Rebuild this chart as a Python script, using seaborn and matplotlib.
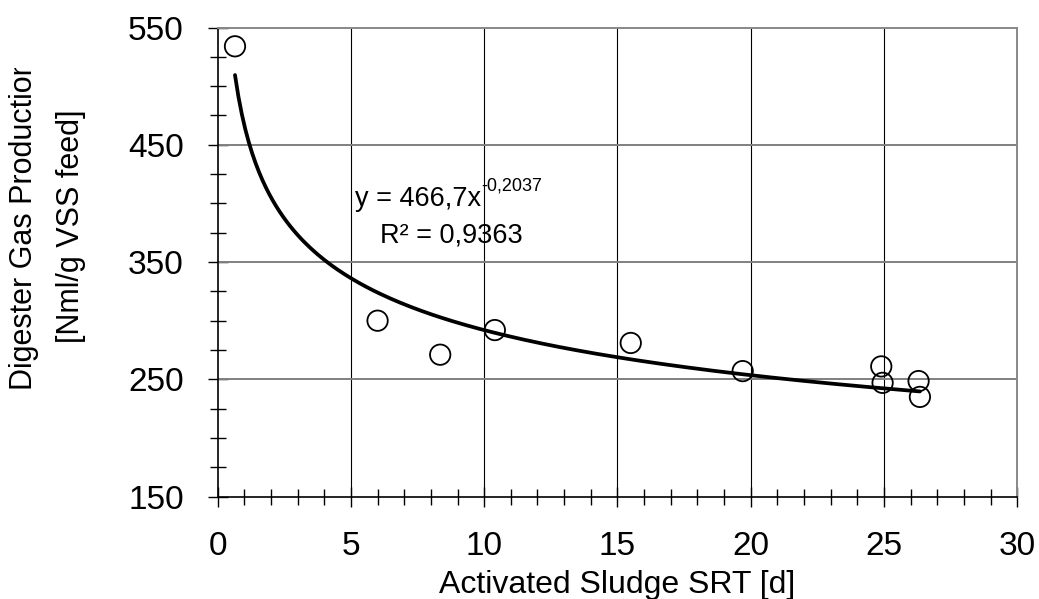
import numpy as np
import pandas as pd
import matplotlib
matplotlib.use("Agg")
import matplotlib.pyplot as plt
import seaborn as sns
from matplotlib.ticker import MultipleLocator
from matplotlib.transforms import Bbox

# measured points
srt = [0.65, 6.0, 8.35, 10.4, 15.5, 19.7, 24.9, 24.95, 26.3, 26.35]
gas = [534, 300, 271, 292, 281, 257, 261, 247, 248.5, 235]

# power trend shown on the chart: y = a * x^b
fit_a = 466.7
fit_b = -0.2037

x_ticks = [0, 5, 10, 15, 20, 25, 30]
y_ticks = [150, 250, 350, 450, 550]

df = pd.DataFrame({"srt": srt, "gas": gas})
xs = np.linspace(min(srt), max(srt), 200)
trend = pd.DataFrame({"srt": xs, "gas": fit_a * xs ** fit_b})

sns.set_theme(style="white")
plt.rcParams["font.family"] = ["Liberation Sans", "DejaVu Sans"]
plt.rcParams["text.color"] = "black"
plt.rcParams["axes.labelcolor"] = "black"
plt.rcParams["xtick.color"] = "black"
plt.rcParams["ytick.color"] = "black"

fig = plt.figure(figsize=(10.39, 5.99), dpi=100)
ax = fig.add_axes([0.2095, 0.171, 0.7695, 0.783])

sns.lineplot(data=trend, x="srt", y="gas", color="black", lw=2.7, ax=ax, zorder=4)
sns.scatterplot(data=df, x="srt", y="gas", s=215, facecolor="none",
                edgecolor="black", linewidth=1.3, ax=ax, zorder=3)

ax.set_xlim(0, 30)
ax.set_ylim(150, 550)
ax.set_xticks(x_ticks)
ax.set_yticks(y_ticks)
ax.xaxis.set_minor_locator(MultipleLocator(1))
ax.yaxis.set_minor_locator(MultipleLocator(25))

ax.grid(False)
for v in x_ticks[1:-1]:
    ax.axvline(v, color="black", lw=0.8, zorder=1)
for v in y_ticks[1:-1]:
    ax.axhline(v, color="#808080", lw=1.4, zorder=1)

for side in ["top", "right"]:
    ax.spines[side].set_color("#888888")
    ax.spines[side].set_linewidth(1.4)
for side in ["left", "bottom"]:
    ax.spines[side].set_color("black")
    ax.spines[side].set_linewidth(1.2)

ax.tick_params(which="major", direction="inout", length=15, width=1,
               labelsize=24, bottom=True, left=True)
ax.tick_params(which="minor", direction="inout", length=12, width=1,
               bottom=True, left=True)
ax.tick_params(axis="x", which="major", pad=17)
ax.tick_params(axis="y", which="major", pad=17)

ax.set_xlabel("Activated Sludge SRT [d]", fontsize=23, labelpad=6)
ax.set_ylabel("")

# y label: two lines, the first one is cut off near the top
line1 = fig.text(24 / 1039, 1 - 390 / 599, "Digester Gas Production", rotation=90,
                 fontsize=22, ha="center", va="bottom")
line1.set_clip_box(Bbox([[0, 0], [200, 599 - 68]]))
line1.set_clip_on(True)
fig.text(71 / 1039, 1 - 343 / 599, "[Nml/g VSS feed]", rotation=90,
         fontsize=22, ha="center", va="bottom")

eq = ax.text(5.15, 398, "y = 466,7x", fontsize=19.5, va="baseline")
ax.annotate("-0,2037", xy=(1, 0.66), xycoords=eq, fontsize=13,
            ha="left", va="bottom")
ax.text(6.09, 367, "R\u00b2 = 0,9363", fontsize=19.5, va="baseline")

fig.savefig("out.png", dpi=100)
